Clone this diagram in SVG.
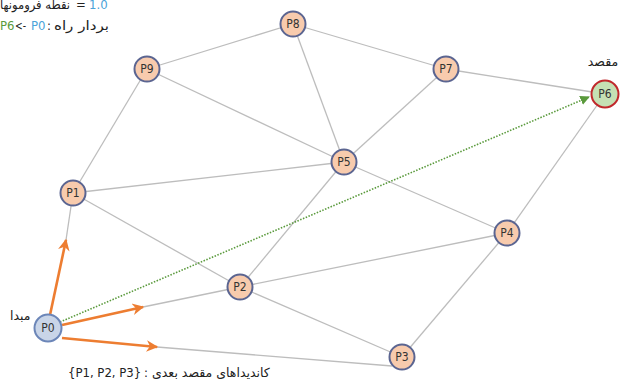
<svg xmlns="http://www.w3.org/2000/svg" width="622" height="383" viewBox="0 0 622 383">
  <defs>
    <style>
      .edge { stroke: #bdbdbd; stroke-width: 1.3; fill: none; }
      .cand { stroke: #ed7d31; stroke-width: 2.6; fill: none; marker-end: url(#orangeHead); }
      .path { stroke: #5a9a3c; stroke-width: 1.6; stroke-dasharray: 1.5 1.5; fill: none; marker-end: url(#greenHead); }
      .node { fill: #f8cbad; stroke: #5b6591; stroke-width: 2; }
      .src { fill: #c9d5e8; stroke: #6c86b8; stroke-width: 2; }
      .dst { fill: #c5e0b4; stroke: #c0282c; stroke-width: 2; }
      .lbl { font-family: "DejaVu Sans Condensed", "DejaVu Sans", sans-serif; font-size: 12px; fill: #333; text-anchor: middle; }
      .fa { font-family: "DejaVu Sans", sans-serif; font-size: 12.5px; fill: #222; }
      .en { font-family: "DejaVu Sans Condensed", "DejaVu Sans", sans-serif; font-size: 13px; fill: #222; }
      .blue { fill: #4ba3d9; }
      .green { fill: #5a9a3c; }
    </style>
    <marker id="orangeHead" viewBox="0 0 10 10" refX="9" refY="5" markerWidth="6" markerHeight="4.5" markerUnits="strokeWidth" orient="auto">
      <path d="M0,0 L10,5 L0,10 L3,5 Z" fill="#ed7d31"/>
    </marker>
    <marker id="greenHead" viewBox="0 0 10 10" refX="9" refY="5" markerWidth="6" markerHeight="6" markerUnits="strokeWidth" orient="auto">
      <path d="M0,0 L10,5 L0,10 Z" fill="#5a9a3c"/>
    </marker>
  </defs>

  <rect width="622" height="383" fill="#ffffff"/>

  <!-- header notes -->
  <g id="notes">
    <text class="fa" x="0" y="9" textLength="70" lengthAdjust="spacingAndGlyphs">نقطه فرومونها</text>
    <text class="en" x="76" y="9">=</text>
    <text class="en blue" x="89" y="9">1.0</text>
    <text class="en green" x="0" y="30">P6</text>
    <text class="en" x="15" y="30" textLength="11" lengthAdjust="spacingAndGlyphs">&lt;-</text>
    <text class="en blue" x="31" y="30">P0</text>
    <text class="en" x="47" y="30">:</text>
    <text class="fa" x="54" y="30" textLength="55" lengthAdjust="spacingAndGlyphs">بردار راه</text>
  </g>

  <!-- connectors -->
  <g id="connectors">
    <line class="edge" x1="66" y1="240" x2="73" y2="193"/>
    <line class="edge" x1="143" y1="307" x2="240" y2="287"/>
    <line class="edge" x1="157" y1="347" x2="392" y2="366"/>
    <line class="edge" x1="73" y1="193" x2="147" y2="69"/>
    <line class="edge" x1="73" y1="193" x2="344" y2="162"/>
    <line class="edge" x1="73" y1="193" x2="240" y2="287"/>
    <line class="edge" x1="147" y1="69" x2="293" y2="24"/>
    <line class="edge" x1="147" y1="69" x2="344" y2="162"/>
    <line class="edge" x1="293" y1="24" x2="446" y2="69"/>
    <line class="edge" x1="293" y1="24" x2="344" y2="162"/>
    <line class="edge" x1="446" y1="69" x2="605" y2="94"/>
    <line class="edge" x1="446" y1="69" x2="344" y2="162"/>
    <line class="edge" x1="344" y1="162" x2="507" y2="233"/>
    <line class="edge" x1="344" y1="162" x2="240" y2="287"/>
    <line class="edge" x1="507" y1="233" x2="605" y2="94"/>
    <line class="edge" x1="507" y1="233" x2="240" y2="287"/>
    <line class="edge" x1="507" y1="233" x2="402" y2="357"/>
    <line class="edge" x1="240" y1="287" x2="402" y2="357"/>

    <line class="path" x1="60" y1="322" x2="589" y2="97"/>

    <line class="cand" x1="50" y1="315" x2="66" y2="240"/>
    <line class="cand" x1="62" y1="325" x2="143" y2="307"/>
    <line class="cand" x1="62" y1="338" x2="157" y2="347"/>
  </g>

  <!-- nodes -->
  <g id="P0"><circle class="src" cx="48" cy="328" r="13.5"/><text class="lbl" x="48" y="332">P0</text></g>
  <g id="P1"><circle class="node" cx="73" cy="193" r="12.5"/><text class="lbl" x="73" y="197">P1</text></g>
  <g id="P2"><circle class="node" cx="240" cy="287" r="12.5"/><text class="lbl" x="240" y="291">P2</text></g>
  <g id="P3"><circle class="node" cx="402" cy="357" r="12.5"/><text class="lbl" x="402" y="361">P3</text></g>
  <g id="P4"><circle class="node" cx="507" cy="233" r="12.5"/><text class="lbl" x="507" y="237">P4</text></g>
  <g id="P5"><circle class="node" cx="344" cy="162" r="12.5"/><text class="lbl" x="344" y="166">P5</text></g>
  <g id="P6"><circle class="dst" cx="605" cy="94" r="13.5"/><text class="lbl" x="605" y="98">P6</text></g>
  <g id="P7"><circle class="node" cx="446" cy="69" r="12.5"/><text class="lbl" x="446" y="73">P7</text></g>
  <g id="P8"><circle class="node" cx="293" cy="24" r="12.5"/><text class="lbl" x="293" y="28">P8</text></g>
  <g id="P9"><circle class="node" cx="147" cy="69" r="12.5"/><text class="lbl" x="147" y="73">P9</text></g>

  <!-- labels -->
  <g id="labels">
    <text class="fa" x="603" y="66" text-anchor="middle">مقصد</text>
    <text class="fa" x="10" y="320">مبدا</text>
    <text class="en" x="68" y="377">{P1, P2, P3}</text>
    <text class="en" x="144" y="377">:</text>
    <text class="fa" x="152" y="377">کاندیداهای مقصد بعدی</text>
  </g>
</svg>
